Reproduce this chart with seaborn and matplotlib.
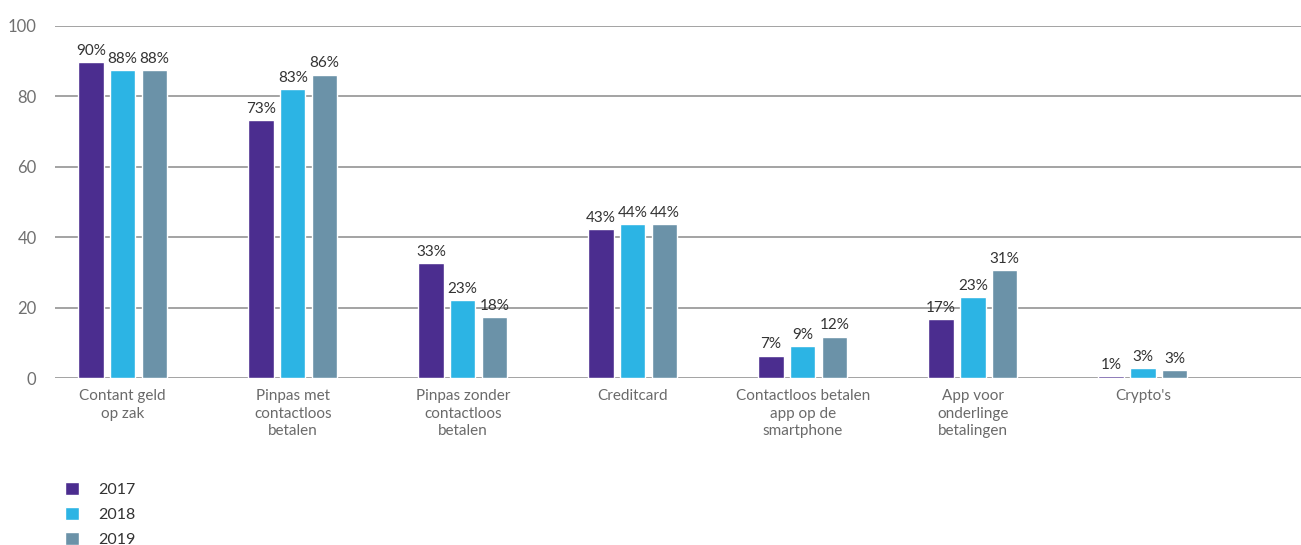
import pandas as pd
import matplotlib
matplotlib.use("Agg")
import matplotlib.pyplot as plt
import seaborn as sns

# categorieën en jaren
categories = ["Contant geld\nop zak", "Pinpas met\ncontactloos\nbetalen",
              "Pinpas zonder\ncontactloos\nbetalen", "Creditcard",
              "Contactloos betalen\napp op de\nsmartphone",
              "App voor\nonderlinge\nbetalingen", "Crypto's"]
years = ["2017", "2018", "2019"]

# balkhoogtes zoals getekend in het origineel
h2017 = [89.7, 73.1, 32.6, 42.4, 6.4, 16.8, 0.65]
h2018 = [87.4, 82.0, 22.2, 43.8, 9.2, 23.1, 2.9]
h2019 = [87.4, 86.1, 17.3, 43.8, 11.8, 30.7, 2.4]

# afgedrukte labels
l2017 = [90, 73, 33, 43, 7, 17, 1]
l2018 = [88, 83, 23, 44, 9, 23, 3]
l2019 = [88, 86, 18, 44, 12, 31, 3]

colors = ["#4b2d8f", "#2cb4e4", "#6b92a8"]

df = pd.DataFrame({"Categorie": categories, "2017": h2017, "2018": h2018, "2019": h2019})
df_long = df.melt(id_vars="Categorie", var_name="Jaar", value_name="Percentage")

sns.set_theme(style="white")
plt.rcParams["font.family"] = ["Lato", "DejaVu Sans"]

fig = plt.figure(figsize=(13.01, 5.45), dpi=100)
ax = fig.add_axes([0.042, 0.306, 0.958, 0.647])

sns.barplot(data=df_long, x="Categorie", y="Percentage", hue="Jaar",
            order=categories, hue_order=years, palette=colors,
            width=0.56, gap=0.2, saturation=1, ax=ax, legend=True)

labels = [l2017, l2018, l2019]
for cont, lab in zip(ax.containers, labels):
    ax.bar_label(cont, labels=[f"{v}%" for v in lab], padding=3,
                 fontsize=11, color="#333333")

ax.set_ylim(0, 100)
ax.set_xlim(-0.40, 6.93)
ax.set_yticks([0, 20, 40, 60, 80, 100])
ax.yaxis.grid(True, color="#8a8a8a", linewidth=1.1)
ax.set_axisbelow(True)
for s in ax.spines.values():
    s.set_visible(False)
ax.tick_params(axis="y", length=0, pad=13, labelsize=12, labelcolor="#707070")
ax.tick_params(axis="x", length=0, pad=8, labelsize=11, labelcolor="#6a6a6a")
for t in ax.get_xticklabels():
    t.set_linespacing(1.3)
ax.set_xlabel("")
ax.set_ylabel("")

handles, lbls = ax.get_legend_handles_labels()
ax.get_legend().remove()
fig.legend(handles, lbls, loc="upper left", bbox_to_anchor=(0.050, 0.116),
           frameon=False, fontsize=11.5, handlelength=0.9, handleheight=0.9,
           labelspacing=0.62, handletextpad=1.2, borderaxespad=0, borderpad=0,
           labelcolor="#333333")

fig.savefig("out.png", dpi=100)
